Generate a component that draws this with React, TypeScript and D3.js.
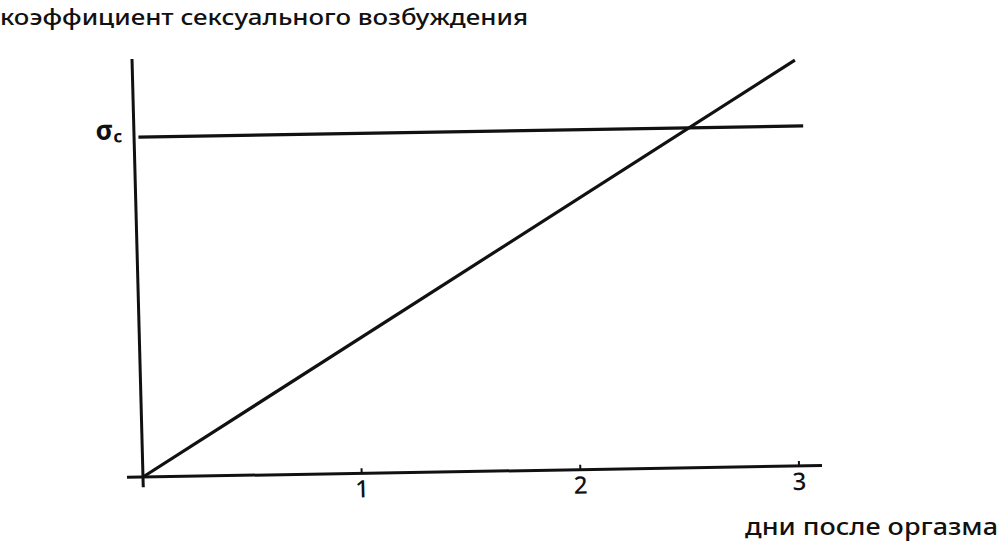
import * as d3 from "d3";
import { useMemo } from "react";

/* ------------------------------------------------------------------ */
/*  Data                                                               */
/* ------------------------------------------------------------------ */

const TITLE = "коэффициент сексуального возбуждения";
const X_LABEL = "дни после оргазма";

const xTicks = [1, 2, 3];
const xTickLabels = ["1", "2", "3"];

// critical level σc (y units) and arousal line end points (days, y)
const SIGMA_C = 1;
const arousalX = [0, 3.03];
const arousalY = [0, 1.194];

// axis extents in data units
const xAxisExtent = [-0.073, 3.105];
const yAxisExtent = [-0.03, 1.23];
const sigmaExtent = [0.02, 3.06];

/* ------------------------------------------------------------------ */
/*  Theme                                                              */
/* ------------------------------------------------------------------ */

const W = 1000;
const H = 548;
const INK = "#111";
const FONT = "'Noto Sans', 'DejaVu Sans', sans-serif";

// the scan is slightly skewed: origin + per-pixel axis directions
const ORIGIN = { x: 143, y: 477 };
const SKEW = { ax: 1, ay: -0.01677, bx: 0.0263, by: 1 };

export default function App() {
  const x = useMemo(() => d3.scaleLinear().domain([0, 3]).range([0, 656]), []);
  const y = useMemo(
    () => d3.scaleLinear().domain([0, 1.23]).range([0, -418]),
    [],
  );

  const line = d3
    .line<number>()
    .x((_, i) => x(arousalX[i]))
    .y((d) => y(d));

  return (
    <svg
      width={W}
      height={H}
      style={{ position: "absolute", left: 0, top: 0, background: "#fff" }}
    >
      {/* Title */}
      <text
        x={0}
        y={25}
        fontFamily={FONT}
        fontSize={22}
        fontWeight={500}
        fill={INK}
        textLength={528}
        lengthAdjust="spacingAndGlyphs"
      >
        {TITLE}
      </text>

      {/* X label */}
      <text
        x={745}
        y={535}
        fontFamily={FONT}
        fontSize={23}
        fontWeight={500}
        fill={INK}
        textLength={253}
        lengthAdjust="spacingAndGlyphs"
      >
        {X_LABEL}
      </text>

      <g
        transform={`matrix(${SKEW.ax},${SKEW.ay},${SKEW.bx},${SKEW.by},${ORIGIN.x},${ORIGIN.y})`}
      >
        {/* Y axis */}
        <line
          x1={0}
          x2={0}
          y1={y(yAxisExtent[0])}
          y2={y(yAxisExtent[1])}
          stroke={INK}
          strokeWidth={3}
        />
        {/* X axis */}
        <line
          x1={x(xAxisExtent[0])}
          x2={x(xAxisExtent[1])}
          y1={0}
          y2={0}
          stroke={INK}
          strokeWidth={3}
        />

        {/* Ticks */}
        {xTicks.map((t, i) => (
          <g key={t} transform={`translate(${x(t)},0)`}>
            <line y1={0} y2={-5} stroke={INK} strokeWidth={2} />
            <text
              y={24}
              textAnchor="middle"
              fontFamily={FONT}
              fontSize={24}
              fontWeight={500}
              fill={INK}
            >
              {xTickLabels[i]}
            </text>
          </g>
        ))}

        {/* σc level */}
        <line
          x1={x(sigmaExtent[0])}
          x2={x(sigmaExtent[1])}
          y1={y(SIGMA_C)}
          y2={y(SIGMA_C)}
          stroke={INK}
          strokeWidth={3.2}
        />
        <text
          x={-12}
          y={y(SIGMA_C) + 2}
          textAnchor="end"
          fontFamily={FONT}
          fontWeight="bold"
          fontSize={27}
          fill={INK}
        >
          σ
          <tspan fontSize={17} dy={3}>
            c
          </tspan>
        </text>

        {/* Arousal line */}
        <path
          d={line(arousalY) ?? ""}
          fill="none"
          stroke={INK}
          strokeWidth={3.2}
        />
      </g>
    </svg>
  );
}
